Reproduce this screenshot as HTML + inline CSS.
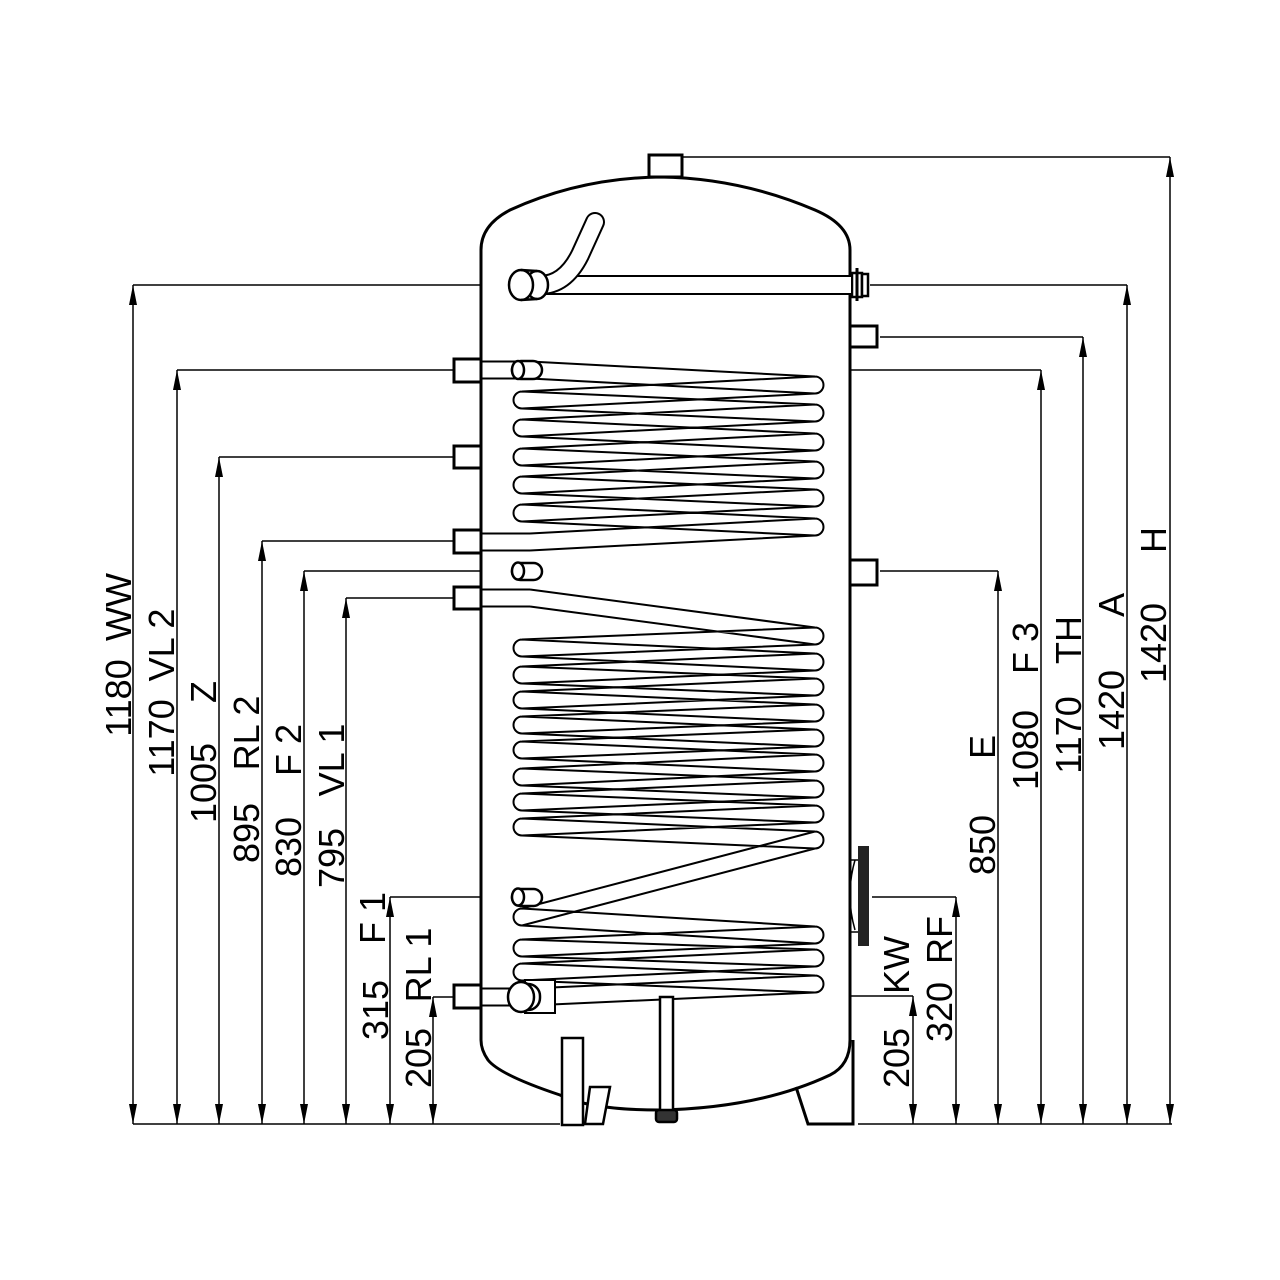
<!DOCTYPE html>
<html><head><meta charset="utf-8"><style>
html,body{margin:0;padding:0;background:#fff}
svg{display:block}
text{font-family:"Liberation Sans",Arial,sans-serif;font-size:36px;fill:#000}
</style></head><body>
<svg id="s" width="1280" height="1280" viewBox="0 0 1280 1280" xmlns="http://www.w3.org/2000/svg">
<defs>
<marker id="a" viewBox="0 0 20 8" refX="20" refY="4" markerWidth="20" markerHeight="8" markerUnits="userSpaceOnUse" orient="auto-start-reverse"><path d="M0,0 L20,4 L0,8 z" fill="#000"/></marker>
</defs>
<g stroke="#000" stroke-width="1.5" fill="none">
<line x1="133" y1="1124" x2="560" y2="1124"/>
<line x1="858" y1="1124" x2="1172" y2="1124"/>
<line x1="133" y1="285" x2="505" y2="285"/>
<line x1="177" y1="370" x2="454" y2="370"/>
<line x1="219" y1="457" x2="454" y2="457"/>
<line x1="262" y1="541" x2="454" y2="541"/>
<line x1="304" y1="571" x2="508" y2="571"/>
<line x1="346" y1="598" x2="454" y2="598"/>
<line x1="390" y1="897" x2="508" y2="897"/>
<line x1="433" y1="997" x2="454" y2="997"/>
<line x1="682" y1="157" x2="1170" y2="157"/>
<line x1="870" y1="285" x2="1127" y2="285"/>
<line x1="880" y1="337" x2="1083" y2="337"/>
<line x1="540" y1="370" x2="1041" y2="370"/>
<line x1="880" y1="571" x2="998" y2="571"/>
<line x1="872" y1="897" x2="956" y2="897"/>
<line x1="555" y1="996" x2="913" y2="996"/>
<g marker-start="url(#a)" marker-end="url(#a)">
<line x1="133" y1="285" x2="133" y2="1124"/>
<line x1="177" y1="370" x2="177" y2="1124"/>
<line x1="219" y1="457" x2="219" y2="1124"/>
<line x1="262" y1="541" x2="262" y2="1124"/>
<line x1="304" y1="571" x2="304" y2="1124"/>
<line x1="346" y1="598" x2="346" y2="1124"/>
<line x1="390" y1="897" x2="390" y2="1124"/>
<line x1="433" y1="997" x2="433" y2="1124"/>
<line x1="913" y1="996" x2="913" y2="1124"/>
<line x1="956" y1="897" x2="956" y2="1124"/>
<line x1="998" y1="571" x2="998" y2="1124"/>
<line x1="1041" y1="370" x2="1041" y2="1124"/>
<line x1="1083" y1="337" x2="1083" y2="1124"/>
<line x1="1127" y1="285" x2="1127" y2="1124"/>
<line x1="1170" y1="157" x2="1170" y2="1124"/>
</g>
</g>

<g stroke="#000" stroke-width="3" fill="none">
<path d="M481,1040 L481,250 Q481,225 510,210 Q580,178 660,177 Q740,178 815,210 Q850,225 850,250 L850,1040 Q850,1065 830,1075 Q760,1108 660,1110 Q590,1110 560,1095 Q500,1075 488,1060 Q481,1050 481,1040 Z" fill="#fff"/>
<rect x="649" y="155" width="33" height="22" fill="#fff"/>
<rect x="454" y="359" width="27" height="23"/>
<rect x="454" y="446" width="27" height="22"/>
<rect x="454" y="530" width="27" height="23"/>
<rect x="454" y="587" width="27" height="22"/>
<rect x="454" y="985" width="27" height="23"/>
<rect x="850" y="326" width="27" height="21"/>
<rect x="850" y="560" width="27" height="25"/>
</g>
<g stroke="#000" stroke-width="2.5" fill="#fff">
<rect x="852" y="273" width="10" height="24"/>
<rect x="862" y="274" width="6" height="22"/>
<line x1="857" y1="268" x2="857" y2="301" stroke-width="3"/>
</g>
<rect x="858" y="846" width="11" height="100" fill="#222"/>
<path d="M855,860 Q845,895 855,930" stroke="#000" stroke-width="1.5" fill="none"/>
<line x1="850" y1="860" x2="858" y2="860" stroke="#000" stroke-width="1.5"/>
<line x1="850" y1="932" x2="858" y2="932" stroke="#000" stroke-width="1.5"/>

<g stroke="#000" fill="#fff">
<path d="M545,285 L851,285" stroke-width="20"/>
<path d="M545,285 L851,285" stroke="#fff" stroke-width="16"/>
<path d="M540,285 Q565,285 580,255 L595,222" stroke-width="20" stroke-linecap="round" fill="none"/>
<path d="M540,285 Q565,285 580,255 L595,222" stroke="#fff" stroke-width="16" stroke-linecap="round" fill="none"/>
<rect x="520" y="270" width="22" height="30" stroke-width="0"/>
<ellipse cx="537" cy="285" rx="11" ry="14" stroke-width="2.5"/>
<ellipse cx="521" cy="285" rx="12" ry="15" stroke-width="2.5"/>
<line x1="521" y1="270" x2="537" y2="271" stroke-width="2.5"/>
<line x1="521" y1="300" x2="537" y2="299" stroke-width="2.5"/>
</g>

<g id="coils" fill="none" stroke="#000" stroke-width="2"></g>

<g id="fittings" stroke="#000" stroke-width="2.5" fill="#fff">
<rect x="512" y="361" width="30" height="18" rx="9"/>
<ellipse cx="518" cy="370" rx="6" ry="9"/>
<rect x="512" y="563" width="30" height="17" rx="8.5"/>
<ellipse cx="518" cy="571" rx="6" ry="8.5"/>
<rect x="512" y="889" width="30" height="17" rx="8.5"/>
<ellipse cx="518" cy="897" rx="6" ry="8.5"/>
<rect x="525" y="980" width="30" height="33" stroke-width="2"/>
<rect x="515" y="984" width="25" height="26" rx="12"/>
<ellipse cx="521" cy="997" rx="13" ry="15"/>
</g>
<g stroke="#000" stroke-width="2.5" fill="#fff">
<rect x="660" y="997" width="13" height="117"/>
<rect x="656" y="1110" width="21" height="12" rx="3" fill="#333"/>
<rect x="562" y="1038" width="21" height="87"/>
<path d="M590,1087 L610,1087 L603,1124 L585,1124 Z"/>
<path d="M796,1087 L808,1124 L853,1124 L853,1040" fill="none" stroke-width="3"/>
</g>

<g>
<text transform="translate(131,698) rotate(-90)" text-anchor="middle">1180</text>
<text transform="translate(131,607) rotate(-90)" text-anchor="middle">WW</text>
<text transform="translate(174,738) rotate(-90)" text-anchor="middle">1170</text>
<text transform="translate(174,645) rotate(-90)" text-anchor="middle">VL 2</text>
<text transform="translate(216,783) rotate(-90)" text-anchor="middle">1005</text>
<text transform="translate(216,692) rotate(-90)" text-anchor="middle">Z</text>
<text transform="translate(259,833) rotate(-90)" text-anchor="middle">895</text>
<text transform="translate(259,733) rotate(-90)" text-anchor="middle">RL 2</text>
<text transform="translate(301,847) rotate(-90)" text-anchor="middle">830</text>
<text transform="translate(301,750) rotate(-90)" text-anchor="middle">F 2</text>
<text transform="translate(344,858) rotate(-90)" text-anchor="middle">795</text>
<text transform="translate(344,760) rotate(-90)" text-anchor="middle">VL 1</text>
<text transform="translate(388,1010) rotate(-90)" text-anchor="middle">315</text>
<text transform="translate(385,918) rotate(-90)" text-anchor="middle">F 1</text>
<text transform="translate(431,1058) rotate(-90)" text-anchor="middle">205</text>
<text transform="translate(431,965) rotate(-90)" text-anchor="middle">RL 1</text>
<text transform="translate(909,1058) rotate(-90)" text-anchor="middle">205</text>
<text transform="translate(909,965) rotate(-90)" text-anchor="middle">KW</text>
<text transform="translate(952,1012) rotate(-90)" text-anchor="middle">320</text>
<text transform="translate(952,940) rotate(-90)" text-anchor="middle">RF</text>
<text transform="translate(995,845) rotate(-90)" text-anchor="middle">850</text>
<text transform="translate(995,747) rotate(-90)" text-anchor="middle">E</text>
<text transform="translate(1038,750) rotate(-90)" text-anchor="middle">1080</text>
<text transform="translate(1038,648) rotate(-90)" text-anchor="middle">F 3</text>
<text transform="translate(1081,735) rotate(-90)" text-anchor="middle">1170</text>
<text transform="translate(1081,640) rotate(-90)" text-anchor="middle">TH</text>
<text transform="translate(1124,710) rotate(-90)" text-anchor="middle">1420</text>
<text transform="translate(1124,605) rotate(-90)" text-anchor="middle">A</text>
<text transform="translate(1166,643) rotate(-90)" text-anchor="middle">1420</text>
<text transform="translate(1166,540) rotate(-90)" text-anchor="middle">H</text>
</g>
</svg>
<script>
(function(){
var R=8.5,L=522,RX=815;
var c1=[[481,370],[530,370],[RX,385],[L,400],[RX,413],[L,428],[RX,442],[L,457],[RX,470],[L,485],[RX,498],[L,513],[RX,527],[530,542],[481,542]];
var c2=[[481,598],[530,598],[RX,636],[L,648],[RX,662],[L,675],[RX,687],[L,700],[RX,713],[L,725],[RX,738],[L,750],[RX,763],[L,777],[RX,789],[L,802],[RX,814],[L,827],[RX,840],[L,917],[RX,935],[L,948],[RX,958],[L,972],[RX,984],[530,997],[481,997]];
var d="";
function add(p){
 for(var i=0;i<p.length-1;i++){
  var a=p[i],b=p[i+1];
  d+="M"+a[0]+","+(a[1]-R)+"L"+b[0]+","+(b[1]-R)+"M"+a[0]+","+(a[1]+R)+"L"+b[0]+","+(b[1]+R);
 }
 for(var j=1;j<p.length-1;j++){
  var q=p[j];
  if(q[0]==RX) d+="M"+q[0]+","+(q[1]-R)+"A"+R+","+R+" 0 0 1 "+q[0]+","+(q[1]+R);
  else if(q[0]==L) d+="M"+q[0]+","+(q[1]-R)+"A"+R+","+R+" 0 0 0 "+q[0]+","+(q[1]+R);
 }
}
add(c1);add(c2);
var path=document.createElementNS("http://www.w3.org/2000/svg","path");
path.setAttribute("d",d);
document.getElementById("coils").appendChild(path);
})();
</script>
</body></html>
